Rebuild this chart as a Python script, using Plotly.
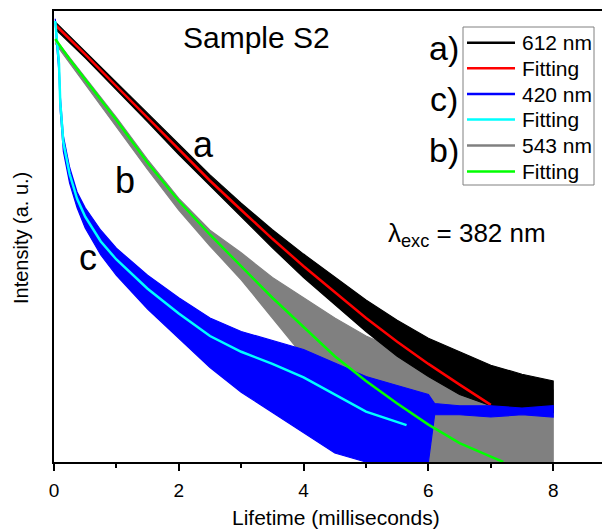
import plotly.graph_objects as go

# decay data (intensity in arbitrary units, 0-100 across the plot height)
# the noisy data traces are kept as upper / lower envelopes of the noise band
t_612 = [0.02, 0.5, 1.0, 1.5, 2.0, 2.5, 3.0, 3.5, 4.0, 4.5, 5.0, 5.5, 6.0, 6.5, 7.0, 7.5, 8.0]
hi_612 = [97.8, 91.2, 84.4, 77.4, 70.5, 63.8, 57.5, 51.6, 46.2, 41.0, 36.0, 31.5, 27.5, 24.5, 21.5, 19.5, 18.0]
lo_612 = [96.2, 89.8, 82.6, 75.6, 68.3, 61.2, 54.5, 47.6, 41.0, 35.0, 29.0, 23.5, 19.0, 15.0, 12.5, 11.5, 11.0]

t_543 = [0.02, 0.5, 1.0, 1.5, 2.0, 2.5, 3.0, 3.5, 4.0, 4.5, 5.0, 5.5, 6.0, 6.5, 7.0, 7.5, 8.0]
hi_543 = [94.0, 85.6, 76.6, 67.2, 58.6, 51.5, 46.5, 41.0, 36.5, 32.0, 28.0, 25.0, 22.5, 20.5, 18.5, 17.0, 16.0]
lo_543 = [93.0, 84.0, 74.5, 65.0, 56.0, 48.0, 40.5, 32.0, 23.5, 15.0, 7.0, 2.0, 0.0, 0.0, 0.0, 0.0, 0.0]

t_420 = [0.02, 0.05, 0.08, 0.1, 0.15, 0.25, 0.37, 0.5, 0.75, 1.0, 1.5, 2.0, 2.5, 3.0, 3.5, 4.0, 4.5, 5.0, 5.5, 6.0, 6.1, 6.5, 7.0, 7.5, 8.0]
hi_420 = [98.5, 94.0, 89.5, 81.5, 72.5, 65.5, 60.0, 56.5, 51.5, 47.5, 41.5, 36.5, 32.0, 29.0, 27.0, 25.0, 22.0, 19.0, 17.0, 15.0, 13.0, 12.5, 12.5, 12.0, 12.5]
lo_420 = [97.5, 91.5, 86.5, 78.0, 69.0, 62.0, 56.5, 52.0, 46.0, 41.5, 34.0, 27.5, 21.0, 15.5, 11.0, 6.5, 2.0, 0.0, 0.0, 0.0, 10.5, 10.5, 10.0, 10.5, 10.0]

# fitted curves
t_fit_a = [0.03, 0.5, 1.0, 1.5, 2.0, 2.5, 3.0, 3.5, 4.0, 4.5, 5.0, 5.5, 6.0, 6.5, 7.0]
y_fit_a = [97.0, 90.6, 83.5, 76.5, 69.4, 62.5, 56.0, 49.6, 43.5, 37.8, 32.0, 26.7, 21.8, 17.2, 12.7]

t_fit_b = [0.02, 0.25, 0.5, 0.75, 1.0, 1.5, 2.0, 2.5, 3.0, 3.5, 4.0, 4.5, 5.0, 5.5, 6.0, 6.5, 7.0, 7.2]
y_fit_b = [94.0, 89.5, 85.0, 80.5, 76.0, 66.5, 58.0, 50.5, 43.5, 36.5, 30.0, 23.5, 18.0, 13.0, 8.3, 4.2, 1.2, 0.0]

t_fit_c = [0.02, 0.05, 0.08, 0.1, 0.15, 0.25, 0.37, 0.5, 0.75, 1.0, 1.5, 2.0, 2.5, 3.0, 3.5, 4.0, 4.5, 5.0, 5.65]
y_fit_c = [98.0, 93.0, 88.5, 80.0, 71.0, 64.0, 58.5, 54.5, 49.0, 45.0, 38.5, 33.0, 28.0, 24.5, 21.8, 18.8, 15.0, 11.2, 8.2]

x_ticks = [0, 2, 4, 6, 8]

legend_names = ["612 nm", "Fitting", "420 nm", "Fitting", "543 nm", "Fitting"]
legend_colors = ["#000000", "#FF0000", "#0000FF", "#00FFFF", "#808080", "#00FF00"]

FONT = "Liberation Sans, Arial, sans-serif"

# the page adds an 8px body margin, so the figure is 8px smaller than the window
W, H = 602, 521
L, R, T, B = 46, 0, 3, 67
PLOT_W, PLOT_H = W - L - R, H - T - B


# window pixel -> paper coords
def px(x):
    return (x - 8 - L) / PLOT_W


def py(y):
    return (H - B + 8 - y) / PLOT_H


def band(t, hi, lo, color):
    return go.Scatter(x=t + t[::-1], y=hi + lo[::-1], mode="lines", fill="toself",
                      fillcolor=color, line=dict(color=color, width=1.2),
                      showlegend=False, hoverinfo="skip")


fig = go.Figure()
fig.add_trace(band(t_543, hi_543, lo_543, "#808080"))
fig.add_trace(band(t_612, hi_612, lo_612, "#000000"))
fig.add_trace(go.Scatter(x=t_fit_a, y=y_fit_a, mode="lines", line=dict(color="#FF0000", width=2.5), showlegend=False))
fig.add_trace(band(t_420, hi_420, lo_420, "#0000FF"))
fig.add_trace(go.Scatter(x=t_fit_c, y=y_fit_c, mode="lines", line=dict(color="#00FFFF", width=2.5), showlegend=False))
fig.add_trace(go.Scatter(x=t_fit_b, y=y_fit_b, mode="lines", line=dict(color="#00FF00", width=2.5), showlegend=False))

fig.update_xaxes(range=[0, PLOT_W / 62.4], tickvals=x_ticks, ticks="outside", ticklen=7,
                 tickwidth=1.5, tickcolor="black", showline=True, linecolor="black", linewidth=1.5,
                 mirror=True, showgrid=False, zeroline=False, ticklabelstandoff=3,
                 tickfont=dict(family=FONT, size=19, color="black"),
                 minor=dict(dtick=1, ticks="outside", ticklen=4, tickwidth=1.5, tickcolor="black"))
fig.update_yaxes(range=[0, PLOT_H / 4.5], showline=True, linecolor="black", linewidth=1.5,
                 showticklabels=False, ticks="", showgrid=False, zeroline=False)

# hand-made legend box (row spacing tighter than plotly's own legend)
shapes = [dict(type="rect", xref="paper", yref="paper", x0=px(463), x1=px(594), y0=py(185), y1=py(27),
               line=dict(color="#808080", width=1), fillcolor="white", layer="above")]
rows = [42.7, 68.3, 94.0, 119.5, 145.5, 171.5]
for r, name, col in zip(rows, legend_names, legend_colors):
    shapes.append(dict(type="line", xref="paper", yref="paper", x0=px(467), x1=px(515),
                       y0=py(r), y1=py(r), line=dict(color=col, width=2.5), layer="above"))
    fig.add_annotation(text=name, x=px(520), y=py(r), xref="paper", yref="paper",
                       showarrow=False, xanchor="left", yanchor="middle",
                       font=dict(family=FONT, size=21, color="black"))
fig.update_layout(shapes=shapes)

notes = [
    dict(text="Sample S2", x=px(256), y=py(38), size=30),
    dict(text="a", x=px(203), y=py(144), size=36),
    dict(text="b", x=px(125), y=py(180), size=36),
    dict(text="c", x=px(88), y=py(258), size=36),
    dict(text="a)", x=px(444), y=py(48), size=34),
    dict(text="c)", x=px(444), y=py(99), size=34),
    dict(text="b)", x=px(444), y=py(150), size=34),
    dict(text="λ<sub>exc</sub> = 382 nm", x=px(467), y=py(234), size=26),
    dict(text="Lifetime (milliseconds)", x=px(336), y=py(517), size=21),
]
for n in notes:
    fig.add_annotation(text=n["text"], x=n["x"], y=n["y"], xref="paper", yref="paper",
                       showarrow=False, xanchor="center", yanchor="middle",
                       font=dict(family=FONT, size=n["size"], color="black"))
fig.add_annotation(text="Intensity (a. u.)", x=px(21), y=py(238), xref="paper", yref="paper",
                   showarrow=False, textangle=-90, xanchor="center", yanchor="middle",
                   font=dict(family=FONT, size=20, color="black"))

fig.update_layout(
    width=W, height=H,
    margin=dict(l=L, r=R, t=T, b=B),
    plot_bgcolor="white", paper_bgcolor="white",
    showlegend=False,
)

fig.write_html("out.html")
